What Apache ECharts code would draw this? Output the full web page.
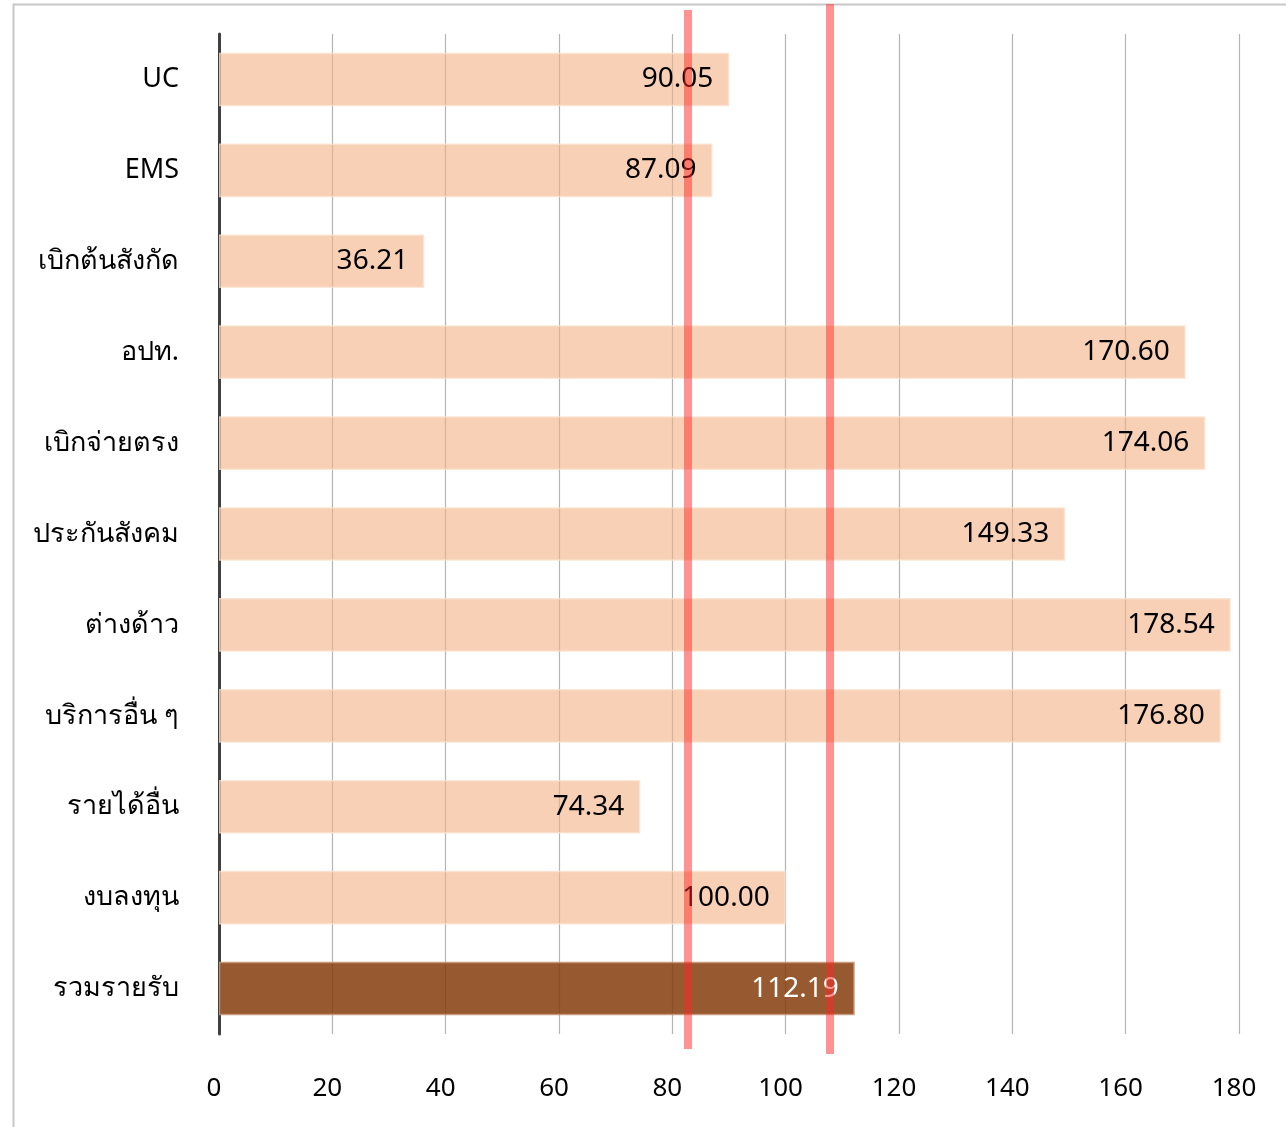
<!DOCTYPE html>
<html>
<head>
<meta charset="utf-8">
<script src="https://cdn.jsdelivr.net/npm/echarts@6/dist/echarts.min.js"></script>
<style>html,body{margin:0;padding:0;background:#fff}#c{width:1286px;height:1127px}</style>
</head>
<body>
<div id="c"></div>
<script>
const categories = ['UC','EMS','เบิกต้นสังกัด','อปท.','เบิกจ่ายตรง','ประกันสังคม','ต่างด้าว','บริการอื่น ๆ','รายได้อื่น','งบลงทุน','รวมรายรับ'];
const values = [90.05, 87.09, 36.21, 170.60, 174.06, 149.33, 178.54, 176.80, 74.34, 100.00, 112.19];
const totalIndex = 10;
const refLines = [82.76, 107.8];
const xTicks = [0, 20, 40, 60, 80, 100, 120, 140, 160, 180];

const FONT = '"Noto Sans", "Open Sans", sans-serif';
const chart = echarts.init(document.getElementById('c'), null, {renderer: 'canvas'});

const barData = values.map((v, i) => i === totalIndex ? {
  value: v,
  itemStyle: {color: 'rgba(132,60,12,0.85)', borderColor: 'rgba(200,150,120,0.9)', borderWidth: 1.5},
  label: {color: '#ffffff'}
} : v);

const hiddenX = (gi) => ({
  gridIndex: gi, type: 'value', min: xTicks[0], max: xTicks[xTicks.length - 1],
  show: false
});
const hiddenY = (gi) => ({gridIndex: gi, type: 'value', min: 0, max: 1, show: false});

const option = {
  backgroundColor: '#ffffff',
  animation: false,
  graphic: [{
    type: 'rect', shape: {x: 13.5, y: 4.5, width: 1400, height: 1300},
    style: {fill: 'none', stroke: '#c8c8c8', lineWidth: 2}, silent: true, z: -10
  }],
  grid: [
    {left: 219, right: 47, top: 34, bottom: 93},
    {left: 219, right: 47, top: 10, bottom: 78},
    {left: 219, right: 47, top: 4, bottom: 73}
  ],
  xAxis: [
    {
      gridIndex: 0, type: 'value', min: xTicks[0], max: xTicks[xTicks.length - 1], interval: 20,
      axisLine: {show: false}, axisTick: {show: false},
      splitLine: {show: true, lineStyle: {color: '#b4b4b4', width: 1.2}},
      axisLabel: {fontFamily: FONT, fontSize: 26, color: '#000', margin: 42, padding: [0, 10, 0, 0]}
    },
    hiddenX(1), hiddenX(2)
  ],
  yAxis: [
    {
      gridIndex: 0, type: 'category', data: categories, inverse: true,
      axisLine: {show: true, onZero: false, lineStyle: {color: '#404040', width: 3}},
      axisTick: {show: false},
      splitLine: {show: false},
      axisLabel: {fontFamily: FONT, fontSize: 27, color: '#000', margin: 40, padding: [0, 0, 8, 0]}
    },
    hiddenY(1), hiddenY(2)
  ],
  series: [
    {
      type: 'bar', xAxisIndex: 0, yAxisIndex: 0,
      data: barData, barCategoryGap: '41%',
      itemStyle: {color: 'rgba(244,177,131,0.6)', borderColor: 'rgba(250,225,205,0.8)', borderWidth: 1.5},
      label: {show: true, position: 'insideRight', distance: 16, fontFamily: FONT, fontSize: 28, color: '#000',
        formatter: (p) => p.value.toFixed(2)},
      z: 2
    },
    {
      type: 'scatter', xAxisIndex: 1, yAxisIndex: 1, data: [], z: 5,
      markLine: {silent: true, symbol: 'none', label: {show: false},
        lineStyle: {color: 'rgba(255,40,40,0.5)', width: 8, type: 'solid'},
        data: [{xAxis: refLines[0]}]}
    },
    {
      type: 'scatter', xAxisIndex: 2, yAxisIndex: 2, data: [], z: 5,
      markLine: {silent: true, symbol: 'none', label: {show: false},
        lineStyle: {color: 'rgba(255,40,40,0.5)', width: 8, type: 'solid'},
        data: [{xAxis: refLines[1]}]}
    }
  ]
};
chart.setOption(option);
</script>
</body>
</html>
